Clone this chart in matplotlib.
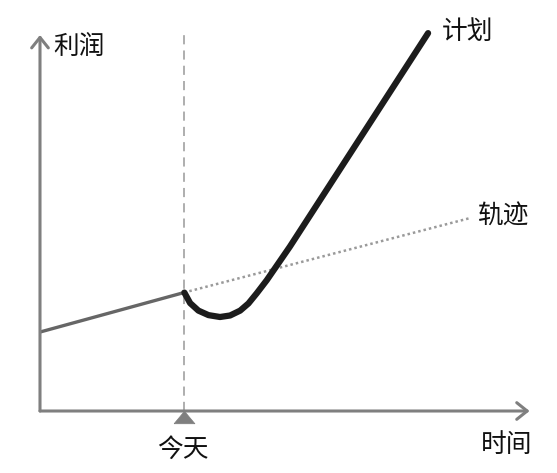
import matplotlib
matplotlib.use("Agg")
import matplotlib.pyplot as plt
import numpy as np

plt.rcParams['font.family'] = ['Noto Sans CJK SC', 'DejaVu Sans']

# ---- data (abstract units: time / profit) ----
today = 4.0
x_axis_end = 13.6
y_axis_end = 10.0

history_x = [0.0, 4.0]
history_y = [2.1, 3.15]

trend_x = [4.0, 11.94]
trend_y = [3.15, 5.13]

plan_x = [4.01, 4.17, 4.40, 4.68, 5.00, 5.28, 5.56, 5.79, 6.02, 6.30, 6.53, 6.94, 10.78]
plan_y = [3.15, 2.87, 2.67, 2.55, 2.50, 2.54, 2.67, 2.86, 3.13, 3.48, 3.80, 4.37, 10.05]

label_y = "利润"
label_x = "时间"
label_today = "今天"
label_plan = "计划"
label_trend = "轨迹"

# ---- figure ----
fig = plt.figure(figsize=(5.57, 4.73), dpi=100)
ax = fig.add_axes([0, 0, 1, 1])
ax.set_xlim(-1.111, 14.361)
ax.set_ylim(-1.649, 10.931)
ax.axis('off')

axis_color = '#7f7f7f'
arrow = dict(arrowstyle='->,head_length=0.75,head_width=0.6', lw=2.2,
             color=axis_color, shrinkA=0, shrinkB=0)
ax.annotate('', xy=(0, y_axis_end), xytext=(0, 0), arrowprops=arrow)
ax.annotate('', xy=(x_axis_end, 0), xytext=(0, 0), arrowprops=arrow)

# today dashed line
ax.plot([today, today], [0, y_axis_end + 0.05], color='#999999', lw=1.1,
        dashes=(6, 4))

# today marker (flat triangle just below the axis)
tri = np.array([[-1.0, -0.6], [1.0, -0.6], [0.0, 0.6], [-1.0, -0.6]])
ax.plot([today], [-0.17], marker=tri, markersize=15,
        markerfacecolor=axis_color, markeredgecolor=axis_color,
        markeredgewidth=0.5, linestyle='none', zorder=10)

# history
ax.plot(history_x, history_y, color='#666666', lw=2.4, solid_capstyle='butt')
# trend
ax.plot(trend_x, trend_y, color='#9a9a9a', lw=1.8, linestyle=(0, (1, 1.2)))
# plan
ax.plot(plan_x, plan_y, color='#1c1c1c', lw=4.5, solid_capstyle='round',
        solid_joinstyle='round')

fs = 18.5
ax.text(1.083, 9.68, label_y, fontsize=fs, ha='center', va='center', color='#111111')
ax.text(12.97, -0.90, label_x, fontsize=fs, ha='center', va='center', color='#111111')
ax.text(3.97, -1.04, label_today, fontsize=fs, ha='center', va='center', color='#111111')
ax.text(11.89, 10.08, label_plan, fontsize=fs, ha='center', va='center', color='#111111')
ax.text(12.89, 5.16, label_trend, fontsize=fs, ha='center', va='center', color='#111111')

fig.savefig('out.png', dpi=100)
